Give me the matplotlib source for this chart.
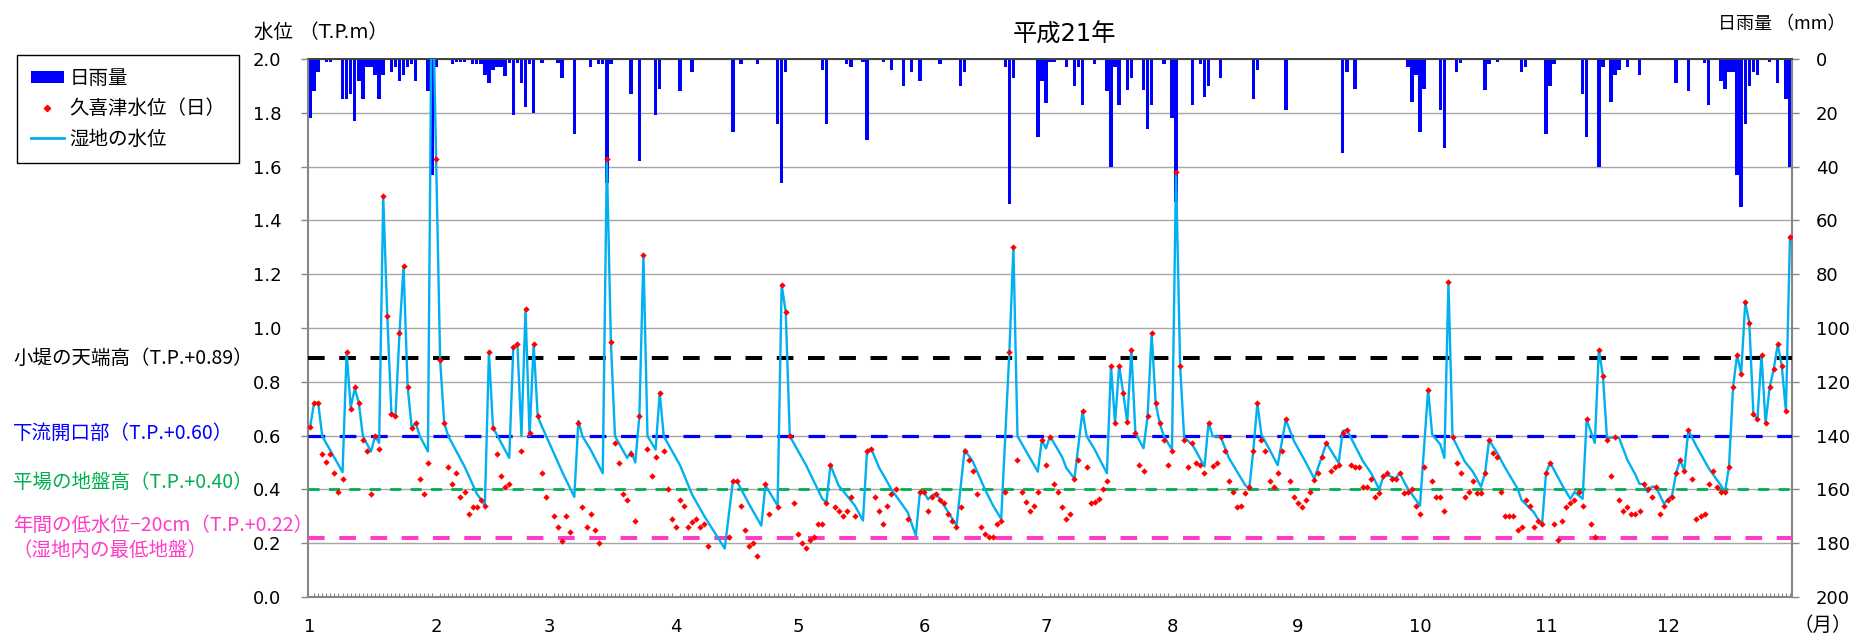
import numpy as np
import matplotlib
matplotlib.use("Agg")
import matplotlib.pyplot as plt
from matplotlib.lines import Line2D
from matplotlib.patches import Patch
from matplotlib.ticker import FormatStrFormatter

plt.rcParams['font.family'] = ['DejaVu Sans', 'Noto Sans CJK JP']
plt.rcParams['lines.scale_dashes'] = False
JP = ['Noto Sans CJK JP', 'DejaVu Sans']

# ---- data -------------------------------------------------------------
month_labels = ['1', '2', '3', '4', '5', '6', '7', '8', '9', '10', '11', '12']
month_start = [0, 31, 59, 90, 120, 151, 181, 212, 243, 273, 304, 334]
N_DAYS = 365

# daily rainfall (mm): day index (0 = Jan 1) and amount
rain_day = [0, 1, 2, 4, 5, 8, 9, 10, 11, 12, 13, 14, 15, 16, 17, 18, 20, 21, 22, 23,
            24, 25, 26, 29, 30, 31, 35, 36, 37, 38, 40, 41, 42, 43, 44, 45, 46, 47, 48, 49,
            50, 51, 52, 53, 54, 55, 57, 61, 62, 65, 69, 71, 72, 73, 74, 79, 81, 85, 86, 91,
            94, 104, 106, 110, 115, 116, 117, 126, 127, 132, 133, 136, 137, 141, 143, 146, 148, 150, 155, 160,
            161, 171, 172, 173, 179, 180, 181, 182, 183, 186, 188, 189, 190, 193, 196, 197, 198, 199, 201, 202,
            205, 206, 207, 210, 212, 213, 217, 219, 220, 221, 224, 232, 233, 240, 254, 255, 257, 270, 271, 272,
            273, 274, 278, 279, 282, 283, 289, 290, 292, 298, 299, 304, 305, 306, 313, 314, 317, 318, 320, 321,
            322, 324, 327, 336, 339, 343, 344, 347, 348, 349, 350, 351, 352, 353, 354, 355, 356, 359, 361, 363,
            364]
rain_mm = [22, 12, 5, 1, 1, 15, 15, 13, 23, 8, 15, 3, 3, 6, 15, 6, 5, 3, 8, 6,
           3, 2, 8, 12, 43, 3, 2, 1, 1, 1, 2, 2, 2, 6, 9, 4, 3, 3, 6.5, 1.5,
           21, 1.5, 9, 18, 2, 20, 1.5, 1.5, 7, 28, 3, 2, 2, 46, 2, 13, 38, 21, 11, 12,
           5, 27, 2, 2, 24, 46, 5, 4, 24, 2, 3, 1, 30, 1, 4, 10, 5, 8, 2, 10,
           5, 3, 54, 7, 29, 8, 16.5, 1, 1, 3, 10, 3, 17, 2, 12, 40, 3, 17, 11.5, 7,
           11.5, 26, 17, 2, 22, 53, 17, 2, 14, 10, 7, 15, 4, 19, 35, 5, 11, 3, 16, 6,
           27, 11, 19, 33, 5, 1.5, 11.5, 2, 1, 5, 3, 28, 10, 2, 13, 29, 40, 3, 16, 6,
           4, 3, 6, 9, 12, 1.5, 17, 8, 11, 5, 5, 43, 55, 24, 10, 5, 6, 1, 9, 15,
           40]

# Kuki-tsu daily water level (T.P. m), one list per month, None = no reading
kuki_jan = [0.632, 0.722, 0.722, 0.533, 0.501, 0.533, 0.46, 0.39, 0.44, 0.909,
            0.70, 0.78, 0.72, 0.583, 0.541, 0.382, 0.598, 0.549, 1.49, 1.046,
            0.682, 0.672, 0.98, 1.23, 0.782, 0.63, 0.647, 0.44, 0.382, 0.50, None]
kuki_feb = [1.63, 0.88, 0.648, 0.483, 0.42, 0.46, 0.372, 0.391, 0.31, 0.334,
            0.334, 0.362, 0.338, 0.909, 0.63, 0.533, 0.449, 0.41, 0.42, 0.93,
            0.94, 0.544, 1.07, 0.61, 0.94, 0.672, 0.46, 0.37]
kuki_mar = [None, 0.30, 0.26, 0.21, 0.30, 0.24, None, 0.648, 0.334, 0.26,
            0.31, 0.25, 0.20, None, 1.63, 0.947, 0.572, 0.50, 0.382, 0.36,
            0.531, 0.284, 0.672, 1.27, 0.549, 0.449, 0.52, 0.76, 0.544, 0.40, 0.29]
kuki_apr = [0.26, 0.362, 0.337, 0.26, 0.28, 0.29, 0.26, 0.27, 0.19, None,
            None, None, None, 0.223, 0.43, 0.43, 0.338, 0.25, 0.19, 0.20,
            0.153, None, 0.42, 0.31, None, 0.334, 1.16, 1.06, 0.598, 0.35]
kuki_may = [0.233, 0.20, 0.184, 0.213, 0.223, 0.27, 0.27, 0.35, 0.49, 0.334,
            0.32, 0.30, 0.32, 0.37, 0.30, None, None, 0.544, 0.552, 0.37,
            0.32, 0.27, 0.338, 0.382, 0.40, None, None, 0.29, None, None, 0.39]
kuki_jun = [0.39, 0.32, 0.37, 0.383, 0.36, 0.35, 0.31, 0.284, 0.26, 0.334,
            0.544, 0.51, 0.47, 0.382, 0.26, 0.233, 0.223, 0.223, 0.27, 0.284,
            0.39, 0.909, 1.30, 0.51, 0.39, 0.352, 0.32, 0.338, 0.39, 0.584]
kuki_jul = [0.49, 0.595, 0.42, 0.39, 0.334, 0.29, 0.31, 0.44, 0.51, 0.69,
            0.483, 0.35, 0.355, 0.363, 0.40, 0.433, 0.86, 0.645, 0.86, 0.76,
            0.65, 0.92, 0.61, 0.49, 0.47, 0.672, 0.98, 0.72, 0.645, 0.584, 0.49]
kuki_aug = [0.544, 1.58, 0.86, 0.584, 0.483, 0.572, 0.50, 0.49, 0.46, 0.648,
            0.487, 0.50, 0.595, 0.544, 0.43, 0.39, 0.334, 0.338, 0.385, 0.41,
            0.544, 0.72, 0.584, 0.544, 0.433, 0.41, 0.46, 0.544, 0.66, 0.433, 0.37]
kuki_sep = [0.35, 0.334, 0.362, 0.39, 0.436, 0.46, 0.52, 0.572, 0.47, 0.483,
            0.49, 0.61, 0.62, 0.49, 0.483, 0.483, 0.41, 0.41, 0.44, 0.37,
            0.385, 0.45, 0.46, 0.44, 0.44, 0.46, 0.385, 0.39, 0.40, 0.338]
kuki_oct = [0.31, 0.483, 0.77, 0.433, 0.37, 0.37, 0.32, 1.17, 0.595, 0.50,
            0.46, 0.37, 0.39, 0.433, 0.385, 0.385, 0.46, 0.584, 0.534, 0.52,
            0.39, 0.30, 0.30, 0.30, 0.25, 0.26, 0.362, 0.338, 0.26, 0.284, 0.27]
kuki_nov = [0.46, 0.50, 0.27, 0.213, 0.284, 0.334, 0.35, 0.362, 0.39, 0.338,
            0.66, 0.27, 0.223, 0.92, 0.82, 0.584, 0.45, 0.595, 0.362, 0.32,
            0.334, 0.31, 0.31, 0.32, 0.42, 0.40, 0.37, 0.41, 0.31, 0.338]
kuki_dec = [0.362, 0.37, 0.46, 0.51, 0.47, 0.62, 0.44, 0.29, 0.30, 0.31,
            0.42, 0.47, 0.41, 0.39, 0.39, 0.483, 0.78, 0.90, 0.83, 1.095,
            1.02, 0.682, 0.66, 0.90, 0.645, 0.78, 0.847, 0.94, 0.857, 0.69, 1.34]

# wetland water level (T.P. m): day index and level
wet_day = [0, 1, 2, 3, 8, 9, 10, 11, 12, 13, 15, 16, 17, 18, 19, 20, 21, 22, 23, 24,
           25, 26, 27, 29, 30, 31, 32, 33, 34, 38, 41, 43, 44, 45, 49, 50, 51, 52, 53, 54,
           55, 56, 57, 62, 65, 66, 67, 69, 72, 73, 74, 75, 78, 79, 80, 81, 82, 83, 85, 86,
           87, 91, 94, 97, 102, 104, 105, 108, 111, 112, 115, 116, 117, 118, 122, 126, 127, 128, 130, 134,
           136, 137, 138, 140, 141, 143, 147, 149, 150, 151, 152, 153, 154, 157, 159, 161, 163, 166, 168, 170,
           172, 173, 174, 179, 180, 181, 182, 185, 186, 188, 190, 191, 193, 196, 197, 198, 199, 200, 201, 202,
           203, 205, 206, 207, 208, 209, 210, 212, 213, 214, 215, 217, 220, 221, 222, 224, 226, 230, 231, 232,
           233, 234, 236, 238, 240, 242, 245, 247, 250, 253, 254, 255, 259, 261, 263, 264, 265, 267, 268, 270,
           273, 275, 276, 278, 279, 280, 281, 284, 286, 288, 289, 290, 292, 294, 297, 298, 301, 303, 304, 305,
           308, 310, 311, 313, 314, 316, 317, 318, 319, 321, 322, 324, 326, 327, 328, 329, 330, 331, 333, 335,
           336, 337, 338, 339, 341, 344, 347, 348, 349, 350, 351, 352, 353, 354, 355, 356, 357, 358, 359, 360,
           361, 362, 363, 364]
wet_level = [0.63, 0.722, 0.722, 0.598, 0.464, 0.909, 0.705, 0.774, 0.722, 0.598, 0.541, 0.598, 0.573, 1.49, 1.046, 0.687, 0.67, 0.98, 1.23, 0.782,
             0.63, 0.647, 0.598, 0.541, 2.4, 1.63, 0.88, 0.648, 0.598, 0.485, 0.385, 0.34, 0.909, 0.63, 0.517, 0.93, 0.94, 0.598, 1.07, 0.598,
             0.94, 0.672, 0.635, 0.466, 0.372, 0.654, 0.598, 0.548, 0.46, 1.63, 0.947, 0.598, 0.517, 0.541, 0.50, 0.672, 1.27, 0.598, 0.548, 0.76,
             0.598, 0.49, 0.38, 0.30, 0.18, 0.43, 0.43, 0.345, 0.265, 0.415, 0.34, 1.16, 1.06, 0.598, 0.49, 0.365, 0.35, 0.49, 0.415, 0.34,
             0.284, 0.544, 0.552, 0.48, 0.454, 0.40, 0.315, 0.228, 0.39, 0.39, 0.363, 0.378, 0.385, 0.315, 0.265, 0.548, 0.504, 0.40, 0.34, 0.29,
             0.909, 1.30, 0.598, 0.466, 0.584, 0.552, 0.598, 0.52, 0.48, 0.44, 0.69, 0.598, 0.548, 0.46, 0.86, 0.645, 0.86, 0.76, 0.65, 0.92,
             0.61, 0.553, 0.672, 0.98, 0.72, 0.645, 0.598, 0.548, 1.58, 0.86, 0.592, 0.567, 0.485, 0.648, 0.598, 0.595, 0.517, 0.416, 0.403, 0.544,
             0.72, 0.604, 0.548, 0.49, 0.66, 0.58, 0.498, 0.44, 0.572, 0.498, 0.617, 0.622, 0.504, 0.46, 0.40, 0.45, 0.454, 0.44, 0.46, 0.403,
             0.34, 0.77, 0.604, 0.567, 0.517, 1.17, 0.595, 0.504, 0.466, 0.41, 0.46, 0.584, 0.535, 0.479, 0.403, 0.36, 0.315, 0.265, 0.46, 0.50,
             0.415, 0.365, 0.39, 0.365, 0.66, 0.573, 0.92, 0.82, 0.59, 0.595, 0.59, 0.51, 0.454, 0.42, 0.42, 0.39, 0.41, 0.41, 0.347, 0.378,
             0.46, 0.51, 0.47, 0.62, 0.56, 0.479, 0.415, 0.39, 0.483, 0.78, 0.90, 0.83, 1.095, 1.02, 0.682, 0.66, 0.90, 0.645, 0.78, 0.847,
             0.94, 0.857, 0.69, 1.34]

# reference levels: value, colour, line width (pt), dash on/off (pt)
ref_levels = [0.89, 0.60, 0.40, 0.22]
ref_colors = ['#000000', '#0000FF', '#00B050', '#FF3CC8']
ref_widths = [2.9, 2.3, 2.0, 2.9]
ref_dashes = [(12, 10.5), (12, 10.5), (8, 6.7), (12, 10.5)]

ref_texts = ['小堤の天端高（T.P.+0.89）', '下流開口部（T.P.+0.60）',
             '平場の地盤高（T.P.+0.40）', '年間の低水位−20cm（T.P.+0.22）', '（湿地内の最低地盤）']
ref_text_colors = ['#000000', '#0000FF', '#00B050', '#FF3CC8', '#FF3CC8']
ref_text_y = [358, 433, 482, 525, 550]

kuki_level = np.array(kuki_jan + kuki_feb + kuki_mar + kuki_apr + kuki_may + kuki_jun +
                      kuki_jul + kuki_aug + kuki_sep + kuki_oct + kuki_nov + kuki_dec,
                      dtype=float)
days = np.arange(N_DAYS)

# ---- figure -----------------------------------------------------------
W, H = 1854, 639
fig = plt.figure(figsize=(W / 100, H / 100), dpi=100)
ax_r = fig.add_axes([308 / W, 1 - 597 / H, 1484 / W, 538 / H])
ax = ax_r.twinx()
ax_r.yaxis.tick_right()
ax.yaxis.tick_left()
ax.yaxis.set_label_position('left')

grey = '#868686'

# rainfall bars hang from the top (inverted right axis)
ax_r.bar(rain_day, rain_mm, width=0.85, color='#0000FF', linewidth=0, zorder=2)
ax_r.set_ylim(200, 0)
ax_r.set_yticks(np.arange(0, 201, 20))
ax_r.yaxis.grid(True, color='#A6A6A6', linewidth=1.0)
ax_r.set_axisbelow(True)
ax_r.set_xlim(-0.5, N_DAYS - 0.5)

# reference lines
for v, c, lw, d in zip(ref_levels, ref_colors, ref_widths, ref_dashes):
    ax.axhline(v, color=c, lw=lw, dashes=d, zorder=2)

ax.plot(wet_day, wet_level, color='#00B0F0', lw=1.7, zorder=3)
ax.plot(days, kuki_level, ls='none', marker='D', ms=2.9, mew=0.3,
        color='#FF0000', zorder=4)
ax.set_ylim(0, 2.0)
ax.set_yticks(np.arange(0, 2.01, 0.2))
ax.yaxis.set_major_formatter(FormatStrFormatter('%.1f'))

# axes styling
for s in ax.spines.values():
    s.set_visible(False)
for name in ('left', 'right', 'bottom'):
    ax_r.spines[name].set_color(grey)
    ax_r.spines[name].set_linewidth(1.5)
ax_r.spines['top'].set_color('#404040')
ax_r.spines['top'].set_linewidth(1.4)

ax.tick_params(axis='y', direction='out', length=5, width=1, color=grey,
               labelsize=13, pad=14)
ax_r.tick_params(axis='y', direction='out', length=5, width=1, color=grey,
                 labelsize=13, pad=12)
ax_r.set_xticks(month_start, month_labels)
ax_r.set_xticks(days, minor=True)
ax_r.tick_params(axis='x', which='major', length=0, labelsize=13, pad=15)
ax_r.tick_params(axis='x', which='minor', direction='in', length=3, width=0.8,
                 color=grey)

# titles and axis captions
fig.text(1065 / W, 1 - 35 / H, '平成21年', fontsize=17.5, ha='center', va='center')
fig.text(254 / W, 1 - 32 / H, '水位 （T.P.m）', fontsize=14, ha='left', va='center')
fig.text(1846 / W, 1 - 24 / H, '日雨量 （mm）', fontsize=13, family=JP,
         ha='right', va='center')
fig.text(1823 / W, 1 - 625 / H, '（月）', fontsize=14, ha='center', va='center')

for t, c, y in zip(ref_texts, ref_text_colors, ref_text_y):
    fig.text(13 / W, 1 - y / H, t, color=c, fontsize=14, family=JP,
             ha='left', va='center')

# legend
handles = [Patch(facecolor='#0000FF', edgecolor='none'),
           Line2D([], [], ls='none', marker='D', ms=3.2, color='#FF0000'),
           Line2D([], [], color='#00B0F0', lw=2)]
labels = ['日雨量', '久喜津水位（日）', '湿地の水位']
leg = fig.legend(handles, labels, loc='upper left',
                 bbox_to_anchor=(17 / W, 1 - 55 / H), bbox_transform=fig.transFigure,
                 frameon=True, fancybox=False, edgecolor='black', framealpha=1,
                 fontsize=14, handlelength=1.7, handleheight=0.6, handletextpad=0.3,
                 labelspacing=0.6, borderpad=0.7, borderaxespad=0)
leg.get_frame().set_linewidth(1.0)

fig.savefig('out.png', dpi=100)
